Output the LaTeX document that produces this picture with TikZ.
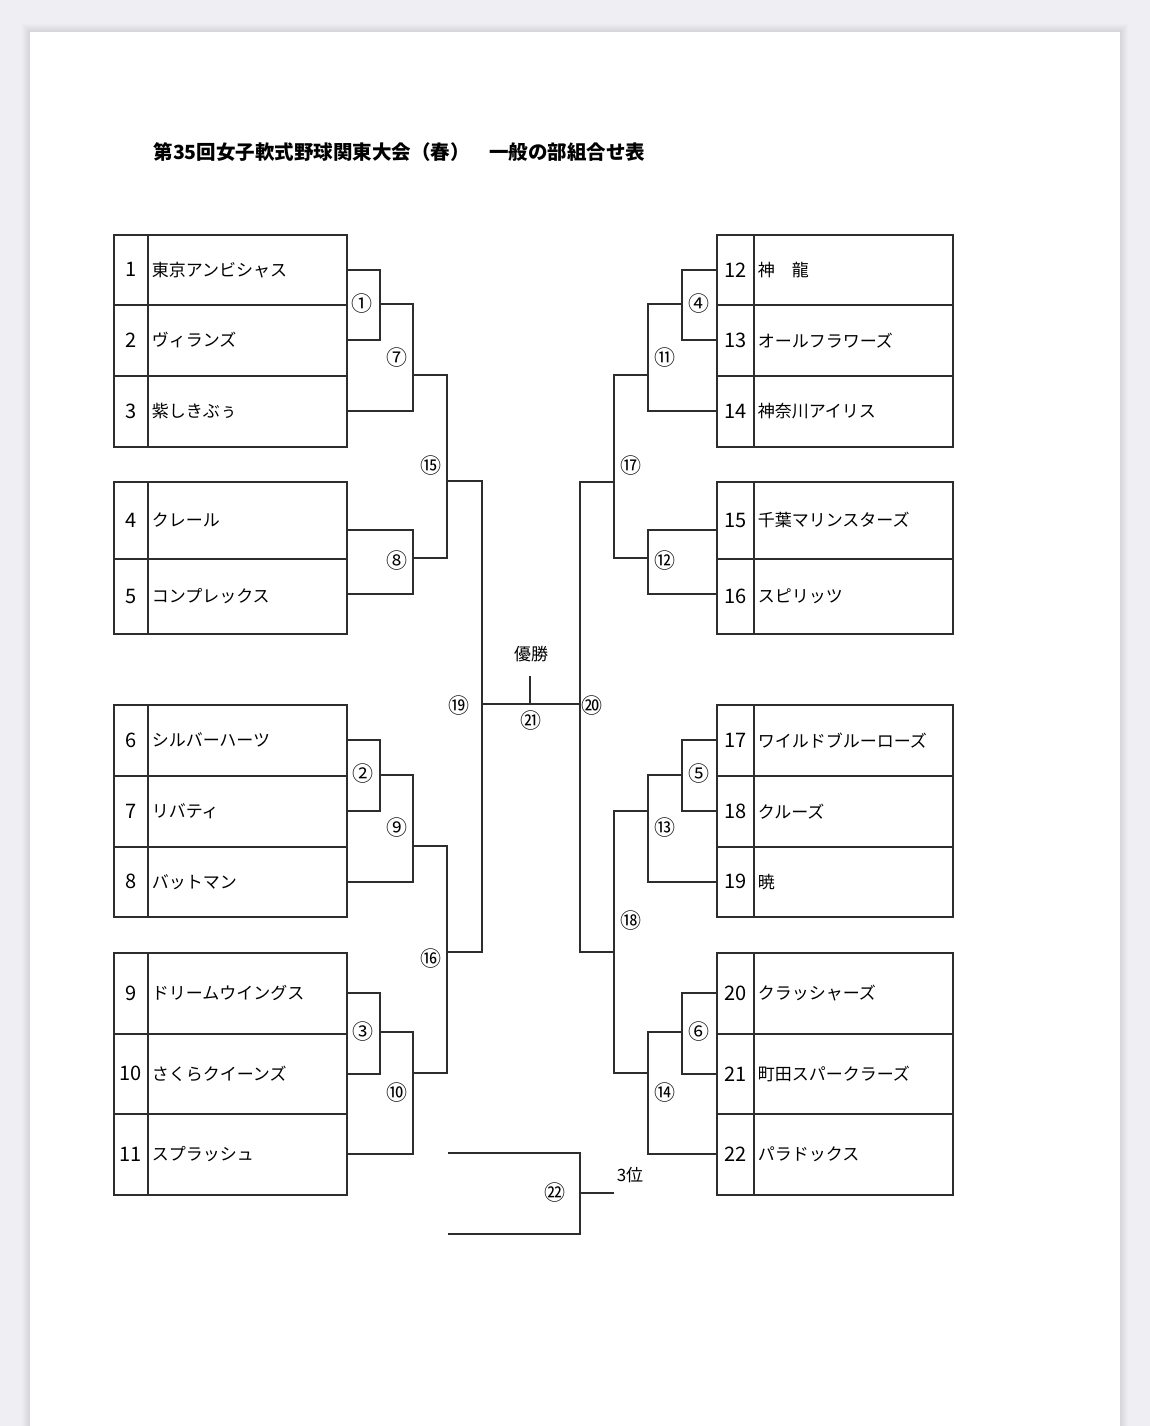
\documentclass[tikz,border=0pt]{standalone}
\usepackage{fontspec}
\usepackage{tikz}
\usetikzlibrary{calc}
\newfontfamily\jp{Noto Sans CJK JP}
\definecolor{deskgrey}{RGB}{238,238,243}
\definecolor{inkline}{RGB}{45,45,45}
\newcommand{\jpsize}[1]{\jp\fontsize{#1}{#1}\selectfont}

\begin{document}
\begin{tikzpicture}[x=1pt, y=-1pt,
    numcell/.style={draw=inkline, line width=1.5pt, anchor=north west, inner sep=0pt, minimum width=34pt, font=\jpsize{20}},
    namecell/.style={draw=inkline, line width=1.5pt, anchor=north west, inner xsep=4pt, inner ysep=0pt, text width=191pt, align=left, font=\jpsize{17}},
    bracket/.style={draw=inkline, line width=1.6pt},
    matchno/.style={inner sep=0pt, font=\jpsize{21}}]
    \useasboundingbox (0,0) rectangle (1150,1426);

    % Sheet on the desk
    \fill[deskgrey] (0,0) rectangle (1150,1426);
    \foreach \s in {1,...,8}
        \fill[black, opacity=0.012] (30-\s,32-\s) rectangle (1120+\s,1426);
    \fill[white] (30,32) rectangle (1120,1426);

    % Title
    \node[anchor=west, font=\jpsize{19.5}\bfseries] (title) at (150,152) {第35回女子軟式野球関東大会（春）　一般の部組合せ表};

    % Left teams
    \foreach \n/\y/\h/\name in {1/234/70/東京アンビシャス, 2/304/71/ヴィランズ, 3/375/71/紫しきぶぅ,
        4/481/77/クレール, 5/558/75/コンプレックス,
        6/704/71/シルバーハーツ, 7/775/71/リバティ, 8/846/70/バットマン,
        9/952/81/ドリームウイングス, 10/1033/80/さくらクイーンズ, 11/1113/81/スプラッシュ}{
        \node[numcell, minimum height=\h pt] (num\n) at (113,\y) {\n};
        \node[namecell, minimum height=\h pt] (team\n) at (147,\y) {\name};
    }

    % Right teams
    \foreach \n/\y/\h/\name in {12/234/70/神　龍, 13/304/71/オールフラワーズ, 14/375/71/神奈川アイリス,
        15/481/77/千葉マリンスターズ, 16/558/75/スピリッツ,
        17/704/71/ワイルドブルーローズ, 18/775/71/クルーズ, 19/846/70/暁,
        20/952/81/クラッシャーズ, 21/1033/80/町田スパークラーズ, 22/1113/81/パラドックス}{
        \node[numcell, minimum width=37pt, minimum height=\h pt] (num\n) at (716,\y) {\n};
        \node[namecell, minimum height=\h pt] (team\n) at (753,\y) {\name};
    }

    % Match points
    \coordinate (m1) at (380,304);  \coordinate (m7) at (413,375);
    \coordinate (m8) at (413,558);  \coordinate (m15) at (447,481);
    \coordinate (m2) at (380,775);  \coordinate (m9) at (413,846);
    \coordinate (m3) at (380,1032); \coordinate (m10) at (413,1073);
    \coordinate (m16) at (447,952); \coordinate (m19) at (482,704);
    \coordinate (m4) at (682,304);  \coordinate (m11) at (648,375);
    \coordinate (m12) at (648,558); \coordinate (m17) at (614,482);
    \coordinate (m5) at (682,775);  \coordinate (m13) at (648,811);
    \coordinate (m6) at (682,1032); \coordinate (m14) at (648,1073);
    \coordinate (m18) at (614,952); \coordinate (m20) at (580,704);
    \coordinate (fin) at (530,704); \coordinate (champ) at (530,676);

    % Left bracket
    \draw[bracket] (team1.east) -| (m1) |- (team2.east);
    \draw[bracket] (m1) -| (m7) |- (team3.east);
    \draw[bracket] ([yshift=-9.5pt]team4.east) -| (m8) |- ([yshift=2.5pt]team5.east);
    \draw[bracket] (m7) -| (m15) |- (m8);
    \draw[bracket] (team6.east) -| (m2) |- (team7.east);
    \draw[bracket] (m2) -| (m9) |- (team8.east);
    \draw[bracket] (team9.east) -| (m3) |- (team10.east);
    \draw[bracket] (m3) -| (m10) |- (team11.east);
    \draw[bracket] (m9) -| (m16) |- (m10);
    \draw[bracket] (m15) -| (m19) |- (m16);

    % Right bracket
    \draw[bracket] (num12.west) -| (m4) |- (num13.west);
    \draw[bracket] (m4) -| (m11) |- (num14.west);
    \draw[bracket] ([yshift=-9.5pt]num15.west) -| (m12) |- ([yshift=2.5pt]num16.west);
    \draw[bracket] (m11) -| (m17) |- (m12);
    \draw[bracket] (num17.west) -| (m5) |- (num18.west);
    \draw[bracket] (m5) -| (m13) |- (num19.west);
    \draw[bracket] (num20.west) -| (m6) |- (num21.west);
    \draw[bracket] (m6) -| (m14) |- (num22.west);
    \draw[bracket] (m13) -| (m18) |- (m14);
    \draw[bracket] (m17) -| (m20) |- (m18);

    % Final
    \draw[bracket] (m19) -- (m20);
    \draw[bracket] (fin) -- (champ);
    \node[font=\jpsize{17}] (win) at (531,654) {優勝};

    % Third place
    \coordinate (sf1) at (448,1153);
    \coordinate (sf2) at (448,1234);
    \coordinate (m22) at (580,1193);
    \coordinate (third) at (614,1193);
    \draw[bracket] (sf1) -| (m22) |- (sf2);
    \draw[bracket] (m22) -- (third);
    \node[font=\jpsize{17}] (place) at (630,1175) {3位};

    % Match numbers
    \foreach \k/\x/\y/\c in {1/362/304/①, 2/363/774/②, 3/363/1032/③, 4/699/304/④, 5/699/774/⑤, 6/699/1032/⑥,
        7/397/358/⑦, 8/397/561/⑧, 9/397/828/⑨, 10/397/1093/⑩, 11/665/358/⑪, 12/665/561/⑫,
        13/665/828/⑬, 14/665/1093/⑭, 15/431/466/⑮, 16/431/959/⑯, 17/631/466/⑰, 18/631/921/⑱,
        19/459/706/⑲, 20/592/706/⑳, 21/531/721/㉑, 22/555/1193/㉒}
        \node[matchno] (lbl\k) at (\x,\y) {\c};
\end{tikzpicture}
\end{document}
